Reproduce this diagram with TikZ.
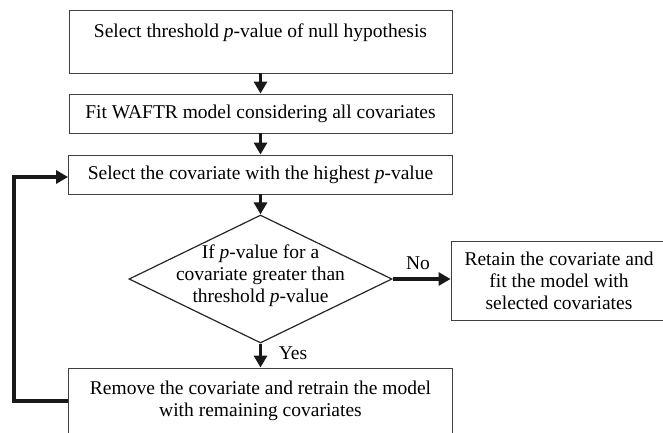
\documentclass[tikz,border=0pt]{standalone}
\usepackage{fontspec}
\setmainfont{Liberation Serif}
\usetikzlibrary{arrows.meta,shapes.geometric}
\begin{document}
\begin{tikzpicture}[x=1pt,y=-1pt,
  box/.style={draw=black!75,line width=0.9pt,rectangle,inner sep=0pt,align=center,font=\fontsize{19.5}{22}\selectfont},
  dia/.style={draw=black!85,line width=1.2pt,diamond,inner sep=0pt,minimum width=263pt,minimum height=128pt},
  txt/.style={inner sep=0pt,align=center,font=\fontsize{19.5}{22}\selectfont},
  arr/.style={line width=3.8pt,draw=black!90,-{Triangle[length=12pt,width=13pt]}},
  looparr/.style={line width=4.2pt,draw=black!90,-{Triangle[length=12pt,width=13pt]}},
]
\useasboundingbox (0,0) rectangle (663,433);
\clip (0,0) rectangle (663,433);

\node[box,minimum width=383pt,minimum height=63pt] (b1) at (260.5,41.5)
  {Select threshold \textit{p}-value of null hypothesis\\ \mbox{}};
\node[box,minimum width=383pt,minimum height=39pt] (b2) at (260.5,113.5)
  {Fit WAFTR model considering all covariates};
\node[box,minimum width=384pt,minimum height=39pt] (b3) at (260.5,174.5)
  {Select the covariate with the highest \textit{p}-value};
\node[dia] (d) at (260.5,279) {};
\node[txt] (dt) at (260.5,275.5)
  {If \textit{p}-value for a\\covariate greater than\\threshold \textit{p}-value};
\node[box,minimum width=216pt,minimum height=79pt] (rb) at (559,281)
  {Retain the covariate and\\fit the model with\\selected covariates};
\node[box,minimum width=384pt,minimum height=84pt] (b4) at (260.5,410)
  {Remove the covariate and retrain the model\\with remaining covariates\\ \mbox{}};

\node[txt] (no) at (418,263) {No};
\node[txt] (yes) at (293,353) {Yes};

\draw[arr] (b1.south) -- (b2.north);
\draw[arr] (b2.south) -- (b3.north);
\draw[arr] (b3.south) -- (d.north);
\draw[arr] (d.south) -- (b4.north);
\draw[arr] (d.east) -- (d.east -| rb.west);
\draw[looparr] ([yshift=9pt]b4.west) -- ++(-54,0) |- ([yshift=-2.5pt]b3.west);
\end{tikzpicture}
\end{document}
